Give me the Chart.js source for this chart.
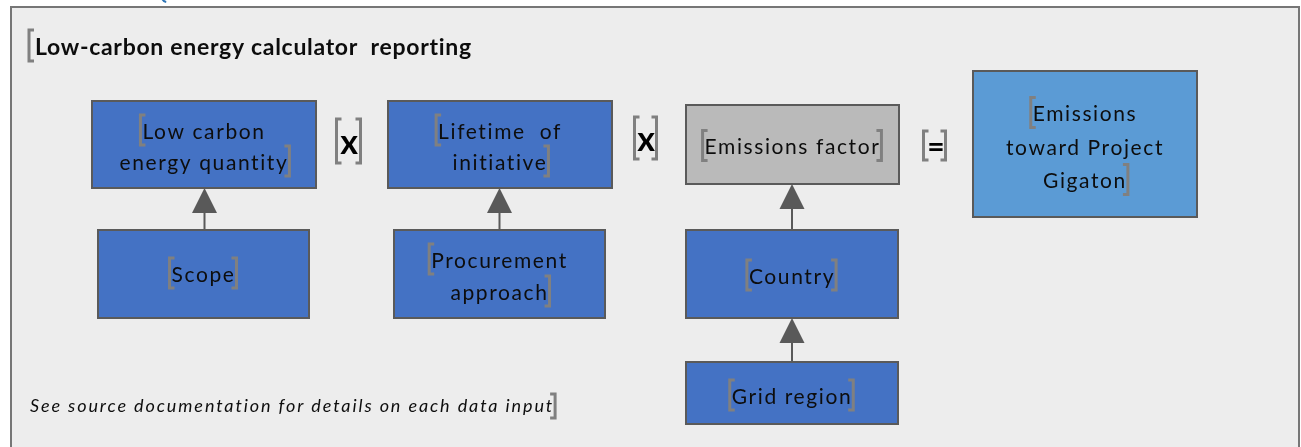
<!DOCTYPE html>
<html>
<head>
<meta charset="utf-8">
<script src="https://cdn.jsdelivr.net/npm/chart.js@4.4.0/dist/chart.umd.min.js"></script>
<style>
  html, body { margin: 0; padding: 0; background: #fff; }
  #wrap { width: 1301px; height: 447px; position: relative; }
</style>
</head>
<body>
<div id="wrap"><canvas id="flow"></canvas></div>
<script>
// diagram content
const titleText = 'Low-carbon energy calculator  reporting';
const noteText = 'See source documentation for details on each data input';
const nodeLabels = [
  ['Low carbon', 'energy quantity'],
  ['Scope'],
  ['Lifetime  of', 'initiative'],
  ['Procurement', 'approach'],
  ['Emissions factor'],
  ['Country'],
  ['Grid region'],
  ['Emissions', 'toward Project', 'Gigaton']
];
const nodeKind = ['input', 'input', 'input', 'input', 'factor', 'input', 'input', 'result'];
const links = [[1, 0], [3, 2], [5, 4], [6, 5]];   // [from, to]
const operators = ['x', 'x', '='];

// layout, in diagram units (x 0..1301, y 0..447 from the top)
const layout = {
  frame: [11, 7, 1299, 460],
  boxes: [
    [92, 101, 316, 188],
    [98, 230, 309, 318],
    [388, 101, 612, 188],
    [394, 230, 605, 318],
    [686, 105, 899, 184],
    [686, 230, 898, 318],
    [686, 362, 898, 424],
    [973, 71, 1197, 217]
  ],
  lineGap: [31, 0, 31, 32, 0, 0, 0, 33.5],
  textShift: [3, 1, 3, 3, 3, 3, 4, 4],
  ops: [[349, 143, 335, 362, 119, 163], [646, 140, 633, 658, 117, 159], [936, 147, 922, 947, 131, 160]],
  title: [35, 48],
  note: [30, 406]
};
const fills = { input: '#4472C4', factor: '#BABABA', result: '#5B9BD5' };

function bracket(ctx, x, top, bottom, side) {
  const arm = 5 * side;
  ctx.save();
  ctx.strokeStyle = '#808080';
  ctx.lineWidth = 3;
  ctx.beginPath();
  ctx.moveTo(x + arm, top);
  ctx.lineTo(x, top);
  ctx.lineTo(x, bottom);
  ctx.lineTo(x + arm, bottom);
  ctx.stroke();
  ctx.restore();
}

const diagram = {
  id: 'diagram',
  beforeDatasetsDraw(chart) {
    const ctx = chart.ctx;
    const X = v => chart.scales.x.getPixelForValue(v);
    const Y = v => chart.scales.y.getPixelForValue(v);

    // little blue mark cut off at the top
    ctx.strokeStyle = '#2E75B6';
    ctx.lineWidth = 2;
    ctx.beginPath();
    ctx.arc(X(167), Y(-3), 5, Math.PI * 0.55, Math.PI * 0.95);
    ctx.stroke();

    // panel
    const f = layout.frame;
    ctx.fillStyle = '#EDEDED';
    ctx.fillRect(X(f[0]), Y(f[1]), X(f[2]) - X(f[0]), Y(f[3]) - Y(f[1]));
    ctx.strokeStyle = '#767676';
    ctx.lineWidth = 2;
    ctx.strokeRect(X(f[0]), Y(f[1]), X(f[2]) - X(f[0]), Y(f[3]) - Y(f[1]));

    // title
    ctx.fillStyle = '#0D0D0D';
    ctx.font = 'bold 23px Lato';
    ctx.letterSpacing = '0.7px';
    ctx.textAlign = 'left';
    ctx.textBaseline = 'middle';
    ctx.fillText(titleText, X(layout.title[0]), Y(layout.title[1]));
    bracket(ctx, X(layout.title[0]) - 6, Y(layout.title[1]) - 18, Y(layout.title[1]) + 13, 1);

    // arrows
    links.forEach(([a, b]) => {
      const from = layout.boxes[a], to = layout.boxes[b];
      const cx = X((from[0] + from[2]) / 2 + (a === 1 ? 1 : 0));
      const tip = Y(to[3]);
      const base = tip + 25;
      ctx.strokeStyle = '#595959';
      ctx.lineWidth = 2;
      ctx.beginPath();
      ctx.moveTo(cx, Y(from[1]));
      ctx.lineTo(cx, base);
      ctx.stroke();
      ctx.fillStyle = '#595959';
      ctx.beginPath();
      ctx.moveTo(cx, tip);
      ctx.lineTo(cx - 12.5, base);
      ctx.lineTo(cx + 12.5, base);
      ctx.closePath();
      ctx.fill();
    });

    // boxes with their labels
    nodeLabels.forEach((lines, i) => {
      const b = layout.boxes[i];
      const x0 = X(b[0]), y0 = Y(b[1]), x1 = X(b[2]), y1 = Y(b[3]);
      ctx.fillStyle = fills[nodeKind[i]];
      ctx.fillRect(x0, y0, x1 - x0, y1 - y0);
      ctx.strokeStyle = '#5A5A5A';
      ctx.lineWidth = 2;
      ctx.strokeRect(x0, y0, x1 - x0, y1 - y0);

      ctx.font = '21px Lato';
      ctx.letterSpacing = '1.6px';
      ctx.textAlign = 'center';
      ctx.textBaseline = 'middle';
      const cx = (x0 + x1) / 2;
      const gap = layout.lineGap[i];
      const cy = (y0 + y1) / 2 + layout.textShift[i];
      const first = cy - gap * (lines.length - 1) / 2;
      lines.forEach((t, k) => {
        ctx.fillStyle = '#0D0D0D';
        ctx.fillText(t, cx, first + k * gap);
      });
      const w0 = ctx.measureText(lines[0]).width;
      const wn = ctx.measureText(lines[lines.length - 1]).width;
      const last = first + gap * (lines.length - 1);
      bracket(ctx, cx - w0 / 2 - 2, first - 17, first + 13, 1);
      bracket(ctx, cx + wn / 2 + 1, last - 17, last + 13, -1);
    });

    // operators between the columns
    ctx.letterSpacing = '0px';
    operators.forEach((op, i) => {
      const o = layout.ops[i];
      ctx.fillStyle = '#000';
      ctx.font = op === 'x' ? 'bold 34px Lato' : 'bold 30px Lato';
      ctx.textAlign = 'center';
      ctx.textBaseline = 'middle';
      ctx.fillText(op, X(o[0]), Y(o[1]));
      bracket(ctx, X(o[2]) + 1.5, Y(o[4]), Y(o[5]), 1);
      bracket(ctx, X(o[3]) - 1.5, Y(o[4]), Y(o[5]), -1);
    });

    // footnote
    ctx.fillStyle = '#0D0D0D';
    ctx.font = 'italic 18px Lato';
    ctx.letterSpacing = '1.9px';
    ctx.textAlign = 'left';
    ctx.textBaseline = 'middle';
    ctx.fillText(noteText, X(layout.note[0]), Y(layout.note[1]));
    const nw = ctx.measureText(noteText).width;
    bracket(ctx, X(layout.note[0]) + nw + 1, Y(layout.note[1]) - 12, Y(layout.note[1]) + 12, -1);
    ctx.letterSpacing = '0px';
  }
};

new Chart(document.getElementById('flow'), {
  type: 'scatter',
  data: {
    datasets: [{
      data: layout.boxes.map(b => ({ x: (b[0] + b[2]) / 2, y: (b[1] + b[3]) / 2 })),
      pointRadius: 0
    }]
  },
  options: {
    responsive: true,
    maintainAspectRatio: false,
    animation: false,
    layout: { padding: 0 },
    scales: {
      x: { type: 'linear', min: 0, max: 1301, display: false },
      y: { type: 'linear', min: 0, max: 447, reverse: true, display: false }
    },
    plugins: { legend: { display: false }, tooltip: { enabled: false } }
  },
  plugins: [diagram]
});
</script>
</body>
</html>
